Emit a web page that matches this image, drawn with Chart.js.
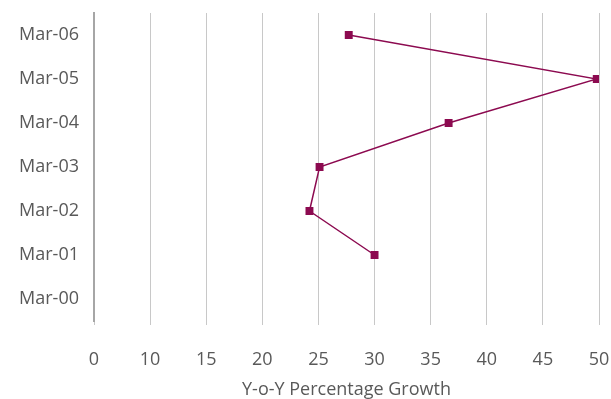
<!DOCTYPE html>
<html>
<head>
<meta charset="utf-8">
<script src="https://cdn.jsdelivr.net/npm/chart.js@4/dist/chart.umd.min.js"></script>
<style>
  html, body { margin: 0; padding: 0; background: #fff; }
  #wrap { width: 611px; height: 399px; position: relative; }
</style>
</head>
<body>
<div id="wrap"><canvas id="growth-chart"></canvas></div>
<script>
  /* categories, bottom to top */
  var CATEGORIES = ['Mar-00', 'Mar-01', 'Mar-02', 'Mar-03', 'Mar-04', 'Mar-05', 'Mar-06'];
  /* Y-o-Y growth (%), Mar-00 has no value */
  var GROWTH = [null, 30, 24.2, 25.1, 36.6, 49.8, 27.7];
  /* x tick labels as printed (first tick sits at 5) */
  var X_TICK_LABELS = ['0', '10', '15', '20', '25', '30', '35', '40', '45', '50'];

  var TEXT = '#595959';
  var LINE = '#8c0a50';
  var FONT = "'Open Sans', 'Noto Sans', sans-serif";

  Chart.defaults.font.family = FONT;
  Chart.defaults.color = TEXT;

  new Chart(document.getElementById('growth-chart'), {
    type: 'line',
    data: {
      labels: CATEGORIES,
      datasets: [{
        label: 'Y-o-Y Percentage Growth',
        data: GROWTH,
        borderColor: LINE,
        backgroundColor: LINE,
        borderWidth: 1.5,
        pointStyle: 'rect',
        pointRadius: 5.6,
        pointBorderWidth: 0,
        pointBackgroundColor: LINE,
        tension: 0,
        fill: false
      }]
    },
    options: {
      indexAxis: 'y',
      responsive: true,
      maintainAspectRatio: false,
      animation: false,
      layout: { padding: { top: 13, right: 12, left: 0, bottom: 0 } },
      plugins: {
        legend: { display: false },
        tooltip: { enabled: false }
      },
      scales: {
        x: {
          type: 'linear',
          min: 5,
          max: 50,
          ticks: {
            stepSize: 5,
            padding: 24,
            maxRotation: 0,
            font: { size: 18 },
            color: TEXT,
            callback: function (v, i) { return X_TICK_LABELS[i]; }
          },
          grid: { color: '#c8c8c8', lineWidth: 1, drawTicks: true, tickLength: 4 },
          border: { display: false },
          title: {
            display: true,
            text: 'Y-o-Y Percentage Growth',
            font: { size: 18 },
            color: TEXT,
            padding: { top: 0, bottom: -2 }
          },
          afterFit: function (scale) {
            scale.height = 78;
            scale.paddingLeft = 0;
            scale.paddingRight = 0;
          }
        },
        y: {
          type: 'category',
          reverse: true,
          offset: true,
          ticks: { padding: 7, font: { size: 18 }, color: TEXT },
          grid: { display: false },
          border: { display: true, color: '#a6a6a6', width: 2 },
          afterFit: function (scale) {
            scale.width = 94;
            scale.paddingTop = 0;
            scale.paddingBottom = 0;
          }
        }
      }
    }
  });
</script>
</body>
</html>
